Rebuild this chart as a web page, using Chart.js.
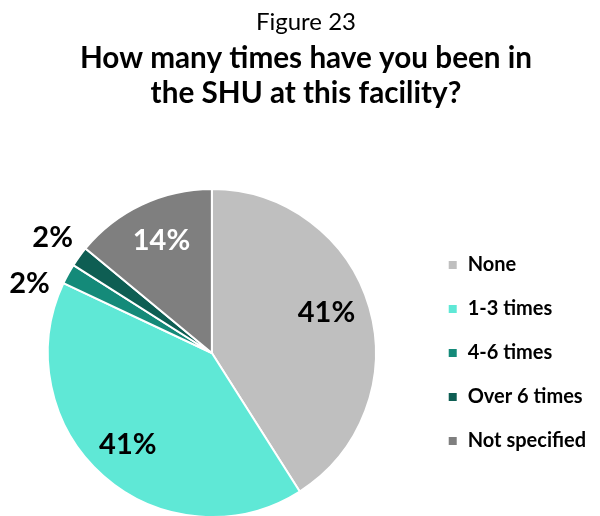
<!DOCTYPE html>
<html>
<head>
<meta charset="utf-8">
<script src="https://cdn.jsdelivr.net/npm/chart.js@4.4.0/dist/chart.umd.min.js"></script>
<style>
  html, body { margin: 0; padding: 0; background: #ffffff; overflow: hidden; }
  #wrap { position: relative; width: 600px; height: 522px; }
</style>
</head>
<body>
<div id="wrap"><canvas id="c"></canvas></div>
<script>
const figureLabel = "Figure 23";
const titleLines = ["How many times have you been in", "the SHU at this facility?"];
const categories = ["None", "1-3 times", "4-6 times", "Over 6 times", "Not specified"];
const percentValues = [41, 41, 2, 2, 14];
const sliceColors = ["#BFBFBF", "#5FE8D6", "#148A79", "#0E5E53", "#7F7F7F"];
const labelColors = ["#000000", "#000000", "#000000", "#000000", "#FFFFFF"];
// label placement: radius ratio and angle nudge (degrees) per slice
const labelRadius = [0.74, 0.76, 1.19, 1.2, 0.75];
const labelAngleNudge = [-3, 1, -8, 0, 1];

const FONT = "Lato, 'Open Sans', sans-serif";

const header = {
  id: 'header',
  afterDraw(chart) {
    const ctx = chart.ctx;
    const cx = 306;
    ctx.save();
    ctx.fillStyle = '#000000';
    ctx.textAlign = 'center';
    ctx.textBaseline = 'alphabetic';
    ctx.font = "normal 24px " + FONT;
    ctx.fillText(figureLabel, cx, 30);
    ctx.font = "bold 29.7px " + FONT;
    ctx.fillText(titleLines[0], cx, 68);
    ctx.fillText(titleLines[1], cx, 103);
    ctx.restore();
  }
};

const pieLabels = {
  id: 'pieLabels',
  afterDatasetsDraw(chart) {
    const ctx = chart.ctx;
    const meta = chart.getDatasetMeta(0);
    ctx.save();
    ctx.textAlign = 'center';
    ctx.textBaseline = 'middle';
    meta.data.forEach((arc, i) => {
      const p = arc.getProps(['x', 'y', 'startAngle', 'endAngle', 'outerRadius'], true);
      const mid = (p.startAngle + p.endAngle) / 2 + labelAngleNudge[i] * Math.PI / 180;
      const r = p.outerRadius * labelRadius[i];
      const x = p.x + Math.cos(mid) * r;
      const y = p.y + Math.sin(mid) * r;
      ctx.fillStyle = labelColors[i];
      ctx.font = "bold 29px " + FONT;
      ctx.fillText(percentValues[i] + "%", x, y);
    });
    ctx.restore();
  }
};

new Chart(document.getElementById('c'), {
  type: 'pie',
  data: {
    labels: categories,
    datasets: [{
      data: percentValues,
      backgroundColor: sliceColors,
      borderColor: '#FFFFFF',
      borderWidth: 2
    }]
  },
  options: {
    responsive: true,
    maintainAspectRatio: false,
    animation: false,
    layout: { padding: { left: 0, right: 4, top: 188, bottom: 4 } },
    plugins: {
      title: { display: false },
      legend: {
        position: 'right',
        fullSize: false,
        labels: {
          color: '#000000',
          font: { family: FONT, size: 20, weight: 'bold' },
          boxWidth: 10,
          boxHeight: 10,
          padding: 24
        }
      },
      tooltip: { enabled: false }
    }
  },
  plugins: [pieLabels, header]
});
</script>
</body>
</html>
